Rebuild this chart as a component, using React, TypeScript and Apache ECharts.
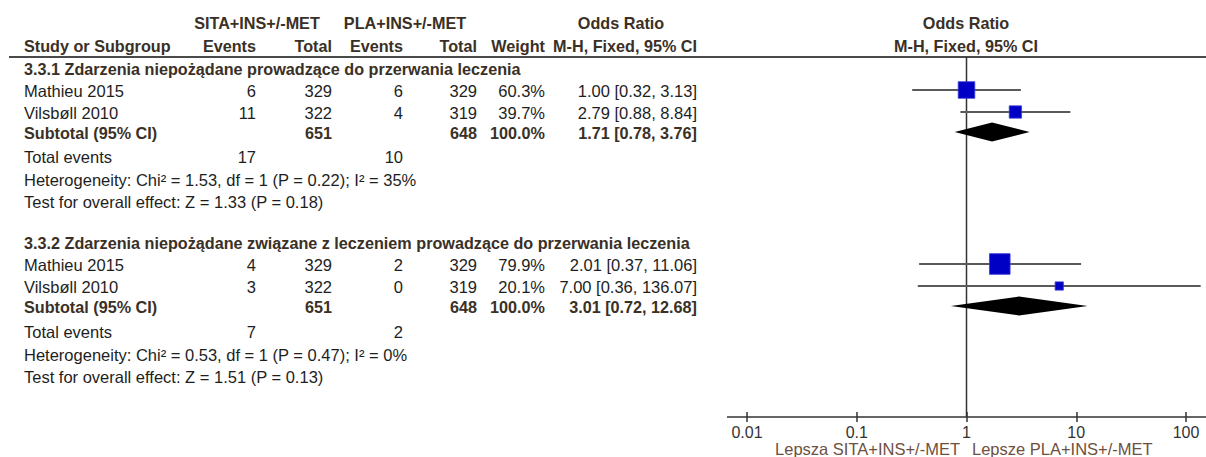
import React, { useEffect, useRef } from "react";
import * as echarts from "echarts";

// ---------- DATA ----------
const groupTitles = [
  "3.3.1 Zdarzenia niepożądane prowadzące do przerwania leczenia",
  "3.3.2 Zdarzenia niepożądane związane z leczeniem prowadzące do przerwania leczenia",
];
const studyNames = ["Mathieu 2015", "Vilsbøll 2010", "Mathieu 2015", "Vilsbøll 2010"];
const sitaEvents = [6, 11, 4, 3];
const sitaTotal = [329, 322, 329, 322];
const plaEvents = [6, 4, 2, 0];
const plaTotal = [329, 319, 329, 319];
const weights = [60.3, 39.7, 79.9, 20.1];
const oddsRatio = [1.0, 2.79, 2.01, 7.0];
const ciLow = [0.32, 0.88, 0.37, 0.36];
const ciHigh = [3.13, 8.84, 11.06, 136.07];

const subSitaTotal = [651, 651];
const subPlaTotal = [648, 648];
const subWeight = [100.0, 100.0];
const subOR = [1.71, 3.01];
const subLow = [0.78, 0.72];
const subHigh = [3.76, 12.68];
const totalSita = [17, 7];
const totalPla = [10, 2];
const heterogeneity = [
  "Heterogeneity: Chi² = 1.53, df = 1 (P = 0.22); I² = 35%",
  "Heterogeneity: Chi² = 0.53, df = 1 (P = 0.47); I² = 0%",
];
const overallTest = [
  "Test for overall effect: Z = 1.33 (P = 0.18)",
  "Test for overall effect: Z = 1.51 (P = 0.13)",
];
const tickValues = [0.01, 0.1, 1, 10, 100];
const tickLabels = ["0.01", "0.1", "1", "10", "100"];
const favoursLeft = "Lepsza SITA+INS+/-MET";
const favoursRight = "Lepsze PLA+INS+/-MET";

// ---------- LAYOUT ----------
const W = 1206;
const H = 457;
const AXIS_Y = 417;
const HEADER_LINE_Y = 57;
const groupTitleY = [69, 243];
const studyY = [91, 113, 265, 287];
const studyGroup = [0, 0, 1, 1];
const subtotalY = [133, 307];
const totalY = [157, 332];
const hetY = [180, 355];
const testY = [202, 377];
const LEFT_X = 24;
const COL = { sitaEv: 256, sitaTot: 332, plaEv: 403, plaTot: 477, weight: 545, or: 697 };

const FONT_FAMILY = '"Liberation Sans", Arial, sans-serif';
const TEXT = "#1e1e1e";
const BOLD = "#3a3026";
const LABEL_BROWN = "#6e5040";
const REG_SIZE = 16.5;
const BOLD_SIZE = 16.2;

function txt(text: string, x: number, y: number, align: string, bold = false, color = TEXT, size?: number) {
  const fs = size ?? (bold ? BOLD_SIZE : REG_SIZE);
  return {
    type: "text",
    x,
    y,
    silent: true,
    style: {
      text,
      fill: color,
      font: `${bold ? "bold " : ""}${fs}px ${FONT_FAMILY}`,
      align,
      verticalAlign: "middle",
      textAlign: align,
      textVerticalAlign: "middle",
    },
  };
}

const fmt2 = (v: number) => v.toFixed(2);

function buildGraphics() {
  const g: any[] = [];
  // header
  g.push(txt("SITA+INS+/-MET", 257, 23, "center", true, BOLD));
  g.push(txt("PLA+INS+/-MET", 405, 23, "center", true, BOLD));
  g.push(txt("Odds Ratio", 621, 23, "center", true, BOLD));
  g.push(txt("Odds Ratio", 966, 23, "center", true, BOLD));
  g.push(txt("Study or Subgroup", LEFT_X, 46, "left", true, BOLD));
  g.push(txt("Events", COL.sitaEv, 46, "right", true, BOLD));
  g.push(txt("Total", COL.sitaTot, 46, "right", true, BOLD));
  g.push(txt("Events", COL.plaEv, 46, "right", true, BOLD));
  g.push(txt("Total", COL.plaTot, 46, "right", true, BOLD));
  g.push(txt("Weight", COL.weight, 46, "right", true, BOLD));
  g.push(txt("M-H, Fixed, 95% CI", COL.or, 46, "right", true, BOLD));
  g.push(txt("M-H, Fixed, 95% CI", 966, 46, "center", true, BOLD));
  g.push({
    type: "line",
    silent: true,
    shape: { x1: 9, y1: HEADER_LINE_Y, x2: W, y2: HEADER_LINE_Y },
    style: { stroke: "#4a4a4a", lineWidth: 2 },
  });

  for (let gi = 0; gi < groupTitles.length; gi++) {
    g.push(txt(groupTitles[gi], LEFT_X, groupTitleY[gi], "left", true, BOLD));
    studyNames.forEach((name, i) => {
      if (studyGroup[i] !== gi) return;
      const y = studyY[i];
      g.push(txt(name, LEFT_X, y, "left"));
      g.push(txt(String(sitaEvents[i]), COL.sitaEv, y, "right"));
      g.push(txt(String(sitaTotal[i]), COL.sitaTot, y, "right"));
      g.push(txt(String(plaEvents[i]), COL.plaEv, y, "right"));
      g.push(txt(String(plaTotal[i]), COL.plaTot, y, "right"));
      g.push(txt(weights[i].toFixed(1) + "%", COL.weight, y, "right"));
      g.push(
        txt(`${fmt2(oddsRatio[i])} [${fmt2(ciLow[i])}, ${fmt2(ciHigh[i])}]`, COL.or, y, "right")
      );
    });
    const sy = subtotalY[gi];
    g.push(txt("Subtotal (95% CI)", LEFT_X, sy, "left", true, BOLD));
    g.push(txt(String(subSitaTotal[gi]), COL.sitaTot, sy, "right", true, BOLD));
    g.push(txt(String(subPlaTotal[gi]), COL.plaTot, sy, "right", true, BOLD));
    g.push(txt(subWeight[gi].toFixed(1) + "%", COL.weight, sy, "right", true, BOLD));
    g.push(
      txt(`${fmt2(subOR[gi])} [${fmt2(subLow[gi])}, ${fmt2(subHigh[gi])}]`, COL.or, sy, "right", true, BOLD)
    );
    g.push(txt("Total events", LEFT_X, totalY[gi], "left"));
    g.push(txt(String(totalSita[gi]), COL.sitaEv, totalY[gi], "right"));
    g.push(txt(String(totalPla[gi]), COL.plaEv, totalY[gi], "right"));
    g.push(txt(heterogeneity[gi], LEFT_X, hetY[gi], "left"));
    g.push(txt(overallTest[gi], LEFT_X, testY[gi], "left"));
  }

  // extended axis line
  g.push({
    type: "line",
    silent: true,
    shape: { x1: 727, y1: AXIS_Y, x2: W, y2: AXIS_Y },
    style: { stroke: "#333", lineWidth: 1.5 },
  });
  g.push(txt(favoursLeft, 960, 448.5, "right", false, LABEL_BROWN, 16.5));
  g.push(txt(favoursRight, 972, 448.5, "left", false, LABEL_BROWN, 16.5));
  return g;
}

function buildSeriesData() {
  const data: number[][] = [];
  // reference line at OR = 1: [kind, x, yStart, yEnd, yDim, size]
  data.push([2, 1, HEADER_LINE_Y, AXIS_Y, HEADER_LINE_Y, 0]);
  studyNames.forEach((_, i) => {
    const size = 4.1 + 0.207 * weights[i];
    data.push([0, oddsRatio[i], ciLow[i], ciHigh[i], studyY[i] - 1, size]);
  });
  subOR.forEach((v, gi) => {
    data.push([1, v, subLow[gi], subHigh[gi], subtotalY[gi] - 1, 0]);
  });
  return data;
}

function renderItem(_params: any, api: any) {
  const kind = api.value(0);
  if (kind === 2) {
    const a = api.coord([api.value(1), api.value(2)]);
    const b = api.coord([api.value(1), api.value(3)]);
    return {
      type: "line",
      shape: { x1: a[0], y1: a[1], x2: b[0], y2: b[1] },
      style: { stroke: "#333", lineWidth: 1.5 },
    };
  }
  const y = api.value(4);
  const c = api.coord([api.value(1), y]);
  const lo = api.coord([api.value(2), y]);
  const hi = api.coord([api.value(3), y]);
  if (kind === 0) {
    const s = api.value(5);
    return {
      type: "group",
      children: [
        {
          type: "line",
          shape: { x1: lo[0], y1: lo[1], x2: hi[0], y2: hi[1] },
          style: { stroke: "#5a5a5a", lineWidth: 2 },
        },
        {
          type: "rect",
          shape: { x: c[0] - s / 2, y: c[1] - s / 2, width: s, height: s },
          style: { fill: "#0000c4", stroke: "#3a3ad8", lineWidth: 0.8 },
        },
      ],
    };
  }
  const hh = 9.5;
  return {
    type: "polygon",
    shape: {
      points: [
        [lo[0], lo[1]],
        [c[0], c[1] - hh],
        [hi[0], hi[1]],
        [c[0], c[1] + hh],
      ],
    },
    style: { fill: "#000" },
  };
}

export default function App() {
  const ref = useRef<HTMLDivElement>(null);
  useEffect(() => {
    if (!ref.current) return;
    const chart = echarts.init(ref.current, null, { renderer: "svg" });
    const labelFor = (v: number) => {
      let best = 0;
      tickValues.forEach((t, i) => {
        if (Math.abs(Math.log10(t) - Math.log10(v)) < Math.abs(Math.log10(tickValues[best]) - Math.log10(v))) best = i;
      });
      return tickLabels[best];
    };
    chart.setOption({
      animation: false,
      backgroundColor: "#ffffff",
      grid: [
        { left: 747, width: 439, top: 0, height: AXIS_Y },
        { left: 747, width: 439, top: AXIS_Y, height: 20 },
      ],
      xAxis: [
        {
          type: "log",
          logBase: 10,
          gridIndex: 0,
          position: "bottom",
          min: tickValues[0],
          max: tickValues[tickValues.length - 1],
          splitNumber: 4,
          axisLine: { show: false, onZero: false },
          axisTick: { show: true, length: 5, inside: false, lineStyle: { color: "#333", width: 1.5 } },
          axisLabel: {
            show: true,
            margin: 7,
            color: "#333",
            fontSize: 16,
            fontFamily: FONT_FAMILY,
            formatter: (v: number) => labelFor(v),
          },
          splitLine: { show: false },
          minorTick: { show: false },
        },
        {
          type: "log",
          logBase: 10,
          gridIndex: 1,
          position: "top",
          min: tickValues[0],
          max: tickValues[tickValues.length - 1],
          splitNumber: 4,
          axisLine: { show: false, onZero: false },
          axisTick: { show: true, length: 5, inside: false, lineStyle: { color: "#333", width: 1.5 } },
          axisLabel: { show: false },
          splitLine: { show: false },
          minorTick: { show: false },
        },
      ],
      yAxis: [
        { type: "value", gridIndex: 0, inverse: true, min: 0, max: AXIS_Y, show: false },
        { type: "value", gridIndex: 1, inverse: true, min: 0, max: 20, show: false },
      ],
      series: [
        {
          type: "custom",
          xAxisIndex: 0,
          yAxisIndex: 0,
          clip: false,
          silent: true,
          encode: { x: 1, y: 4 },
          renderItem,
          data: buildSeriesData(),
        },
      ],
      graphic: { elements: buildGraphics() },
    });
    return () => chart.dispose();
  }, []);
  return (
    <div
      ref={ref}
      style={{ position: "fixed", left: 0, top: 0, width: W, height: H, background: "#fff" }}
    />
  );
}
